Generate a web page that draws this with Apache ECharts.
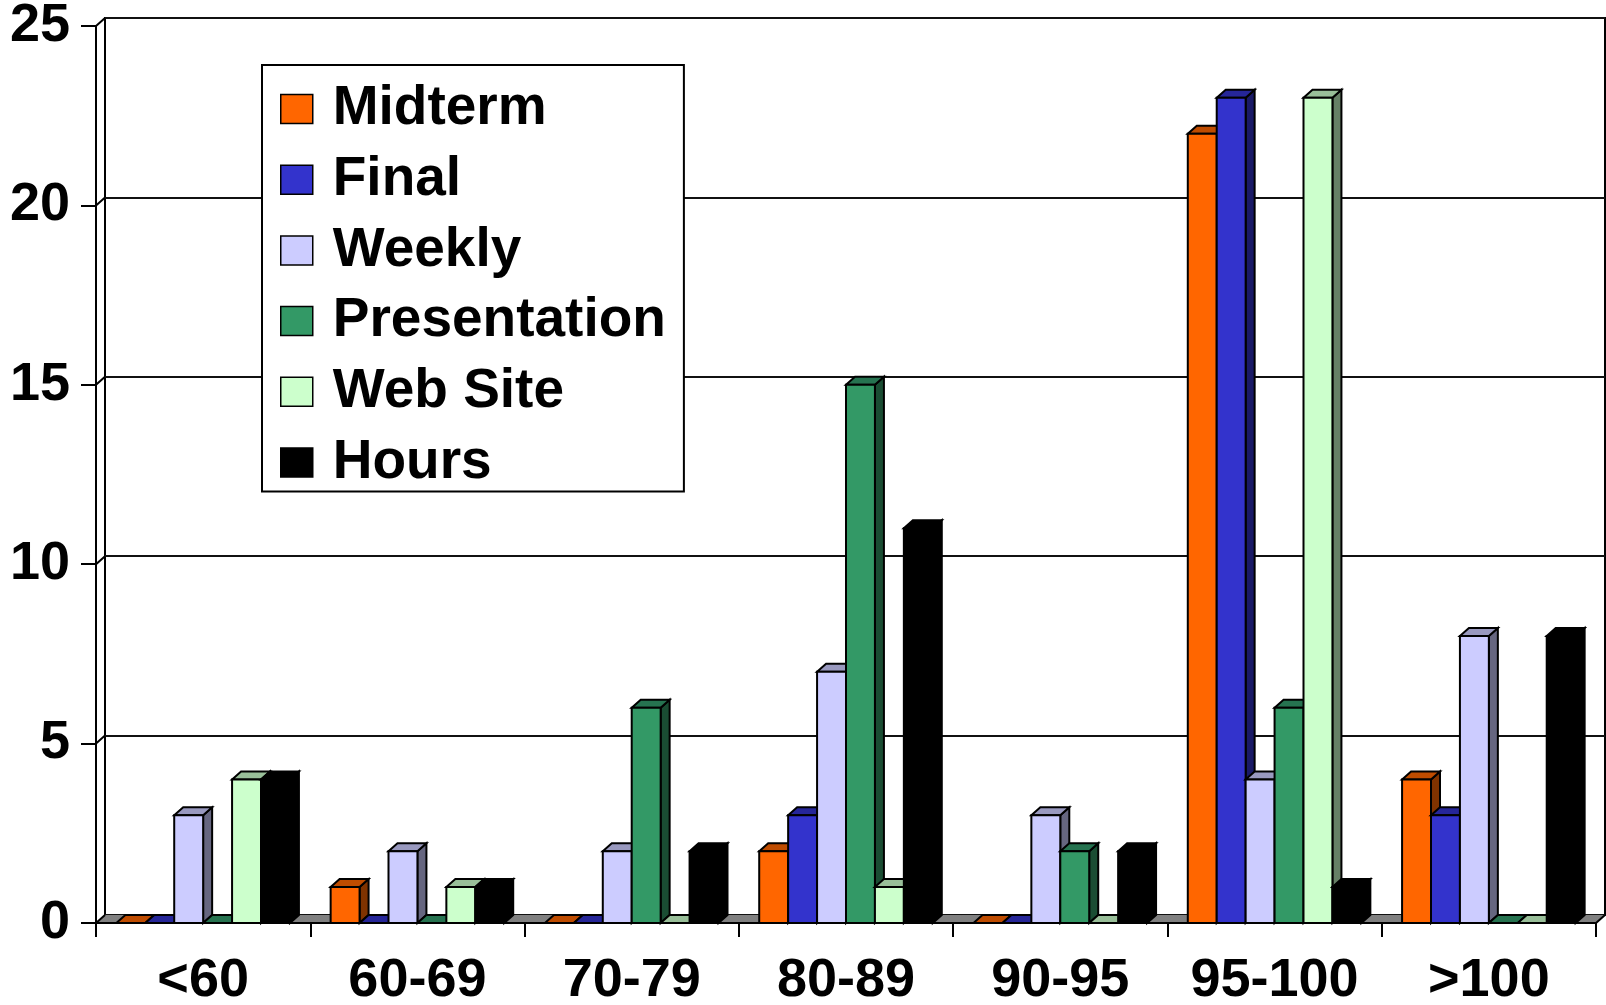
<!DOCTYPE html>
<html>
<head>
<meta charset="utf-8">
<script src="https://cdn.jsdelivr.net/npm/echarts@6/dist/echarts.min.js"></script>
<style>
html,body{margin:0;padding:0;background:#fff;}
#chart{width:1606px;height:1005px;}
</style>
</head>
<body>
<div id="chart"></div>
<script>
// ---- data ----
const categories = ['<60', '60-69', '70-79', '80-89', '90-95', '95-100', '>100'];
const seriesNames = ['Midterm', 'Final', 'Weekly', 'Presentation', 'Web Site', 'Hours'];
const midterm      = [0, 1, 0, 2, 0, 22, 4];
const finalExam    = [0, 0, 0, 3, 0, 23, 3];
const weekly       = [3, 2, 2, 7, 3, 4, 8];
const presentation = [0, 0, 6, 15, 2, 6, 0];
const webSite      = [4, 1, 0, 1, 0, 23, 0];
const hours        = [4, 1, 2, 11, 2, 1, 8];
const yTicks = [0, 5, 10, 15, 20, 25];

// ---- styles ----
const faceColors = [
  {front:'#FF6600', top:'#BF4C00', side:'#803300'},
  {front:'#3333CC', top:'#262699', side:'#1A1A66'},
  {front:'#CCCCFF', top:'#9999BF', side:'#666680'},
  {front:'#339966', top:'#267350', side:'#1A4D33'},
  {front:'#CCFFCC', top:'#99BF99', side:'#668066'},
  {front:'#000000', top:'#000000', side:'#000000'}
];
const DX = 9, DY = 8;
const FONT = "'Liberation Sans', Arial, sans-serif";
const allValues = [midterm, finalExam, weekly, presentation, webSite, hours];

function barRenderer(k) {
  return function (params, api) {
    const ci = api.value(0), v = api.value(1);
    const base = api.coord([ci, 0]);
    const top = api.coord([ci, v]);
    const band = api.size([1, 0])[0];
    const bw = band * 0.81 / 6;
    const x = base[0] - 3 * bw + k * bw;
    const y0 = base[1], y1 = top[1];
    const c = faceColors[k];
    const stroke = {stroke: '#000', lineWidth: 2, lineJoin: 'miter'};
    const children = [
      {type: 'polygon', shape: {points: [[x + bw, y1], [x + bw + DX, y1 - DY], [x + bw + DX, y0 - DY], [x + bw, y0]]},
       style: Object.assign({fill: c.side}, stroke)},
      {type: 'polygon', shape: {points: [[x, y1], [x + DX, y1 - DY], [x + bw + DX, y1 - DY], [x + bw, y1]]},
       style: Object.assign({fill: c.top}, stroke)}
    ];
    if (y0 - y1 > 0.5) {
      children.push({type: 'rect', shape: {x: x, y: y1, width: bw, height: y0 - y1},
        style: Object.assign({fill: c.front}, stroke)});
    }
    return {type: 'group', children: children};
  };
}

const barSeries = seriesNames.map((name, k) => ({
  name: name,
  type: 'custom',
  xAxisIndex: 0, yAxisIndex: 0,
  z: 3,
  itemStyle: {color: faceColors[k].front},
  encode: {x: 0, y: 1},
  renderItem: barRenderer(k),
  data: allValues[k].map((v, i) => [i, v])
}));

const floorSeries = {
  name: 'floor', type: 'custom', xAxisIndex: 0, yAxisIndex: 0, z: 1, silent: true,
  encode: {x: 0, y: 1},
  renderItem: function (params, api) {
    const ci = api.value(0);
    const p = api.coord([ci, 0]);
    const band = api.size([1, 0])[0];
    const l = p[0] - band / 2 - 0.5, r = p[0] + band / 2 + 0.5, y0 = p[1];
    const children = [{type: 'polygon', shape: {points: [[l, y0], [r, y0], [r + DX, y0 - DY], [l + DX, y0 - DY]]},
      style: {fill: '#808080'}}];
    if (ci === categories.length - 1) {
      children.push({type: 'line', shape: {x1: r - 0.5, y1: y0, x2: r - 0.5 + DX, y2: y0 - DY}, style: {stroke: '#000', lineWidth: 2}});
    }
    return {type: 'group', children: children};
  },
  data: categories.map((c, i) => [i, 0])
};

const wallSeries = {
  name: 'wall', type: 'custom', xAxisIndex: 0, yAxisIndex: 0, z: 4, silent: true,
  encode: {x: 0, y: 1},
  renderItem: function (params, api) {
    const v = api.value(1);
    const p = api.coord([0, v]);
    const band = api.size([1, 0])[0];
    const l = p[0] - band / 2;
    return {type: 'line', shape: {x1: l, y1: p[1], x2: l + DX, y2: p[1] - DY}, style: {stroke: '#000', lineWidth: 2}};
  },
  data: yTicks.map(v => [0, v])
};

const chart = echarts.init(document.getElementById('chart'), null, {renderer: 'canvas'});
chart.setOption({
  backgroundColor: '#fff',
  animation: false,
  grid: [
    {left: 96, right: 10, top: 26, bottom: 82, containLabel: false, outerBoundsMode: 'none'},
    {left: 105, right: 1, top: 18, bottom: 90, containLabel: false, outerBoundsMode: 'none',
     show: true, borderColor: '#000', borderWidth: 2, backgroundColor: 'transparent'}
  ],
  legend: {
    data: seriesNames,
    orient: 'vertical',
    left: 262, top: 65,
    padding: [16, 18, 1, 18],
    itemGap: 14.7,
    itemWidth: 32, itemHeight: 29,
    icon: 'rect',
    backgroundColor: '#fff',
    borderColor: '#000', borderWidth: 2,
    itemStyle: {borderColor: '#000', borderWidth: 1.5},
    textStyle: {fontFamily: FONT, fontWeight: 'bold', fontSize: 55, color: '#000', lineHeight: 56, padding: [0, 0, 0, 15]},
    selectedMode: false
  },
  xAxis: [
    {type: 'category', gridIndex: 0, data: categories, boundaryGap: true, z: 6,
     axisLine: {show: true, lineStyle: {color: '#000', width: 2}},
     axisTick: {show: true, interval: 0, length: 14, lineStyle: {color: '#000', width: 2}},
     axisLabel: {interval: 0, fontFamily: FONT, fontWeight: 'bold', fontSize: 54, color: '#000', margin: 31},
     splitLine: {show: false}},
    {type: 'category', gridIndex: 1, data: categories, show: false}
  ],
  yAxis: [
    {type: 'value', gridIndex: 0, min: 0, max: 25, interval: 5, z: 6,
     axisLine: {show: true, lineStyle: {color: '#000', width: 2}},
     axisTick: {show: true, length: 15, lineStyle: {color: '#000', width: 2}},
     axisLabel: {fontFamily: FONT, fontWeight: 'bold', fontSize: 54, color: '#000', margin: 26},
     splitLine: {show: false}},
    {type: 'value', gridIndex: 1, min: 0, max: 25, interval: 5,
     axisLine: {show: false}, axisTick: {show: false}, axisLabel: {show: false},
     splitLine: {show: true, lineStyle: {color: '#111', width: 2}}}
  ],
  series: [floorSeries].concat(barSeries).concat([wallSeries])
});
</script>
</body>
</html>
